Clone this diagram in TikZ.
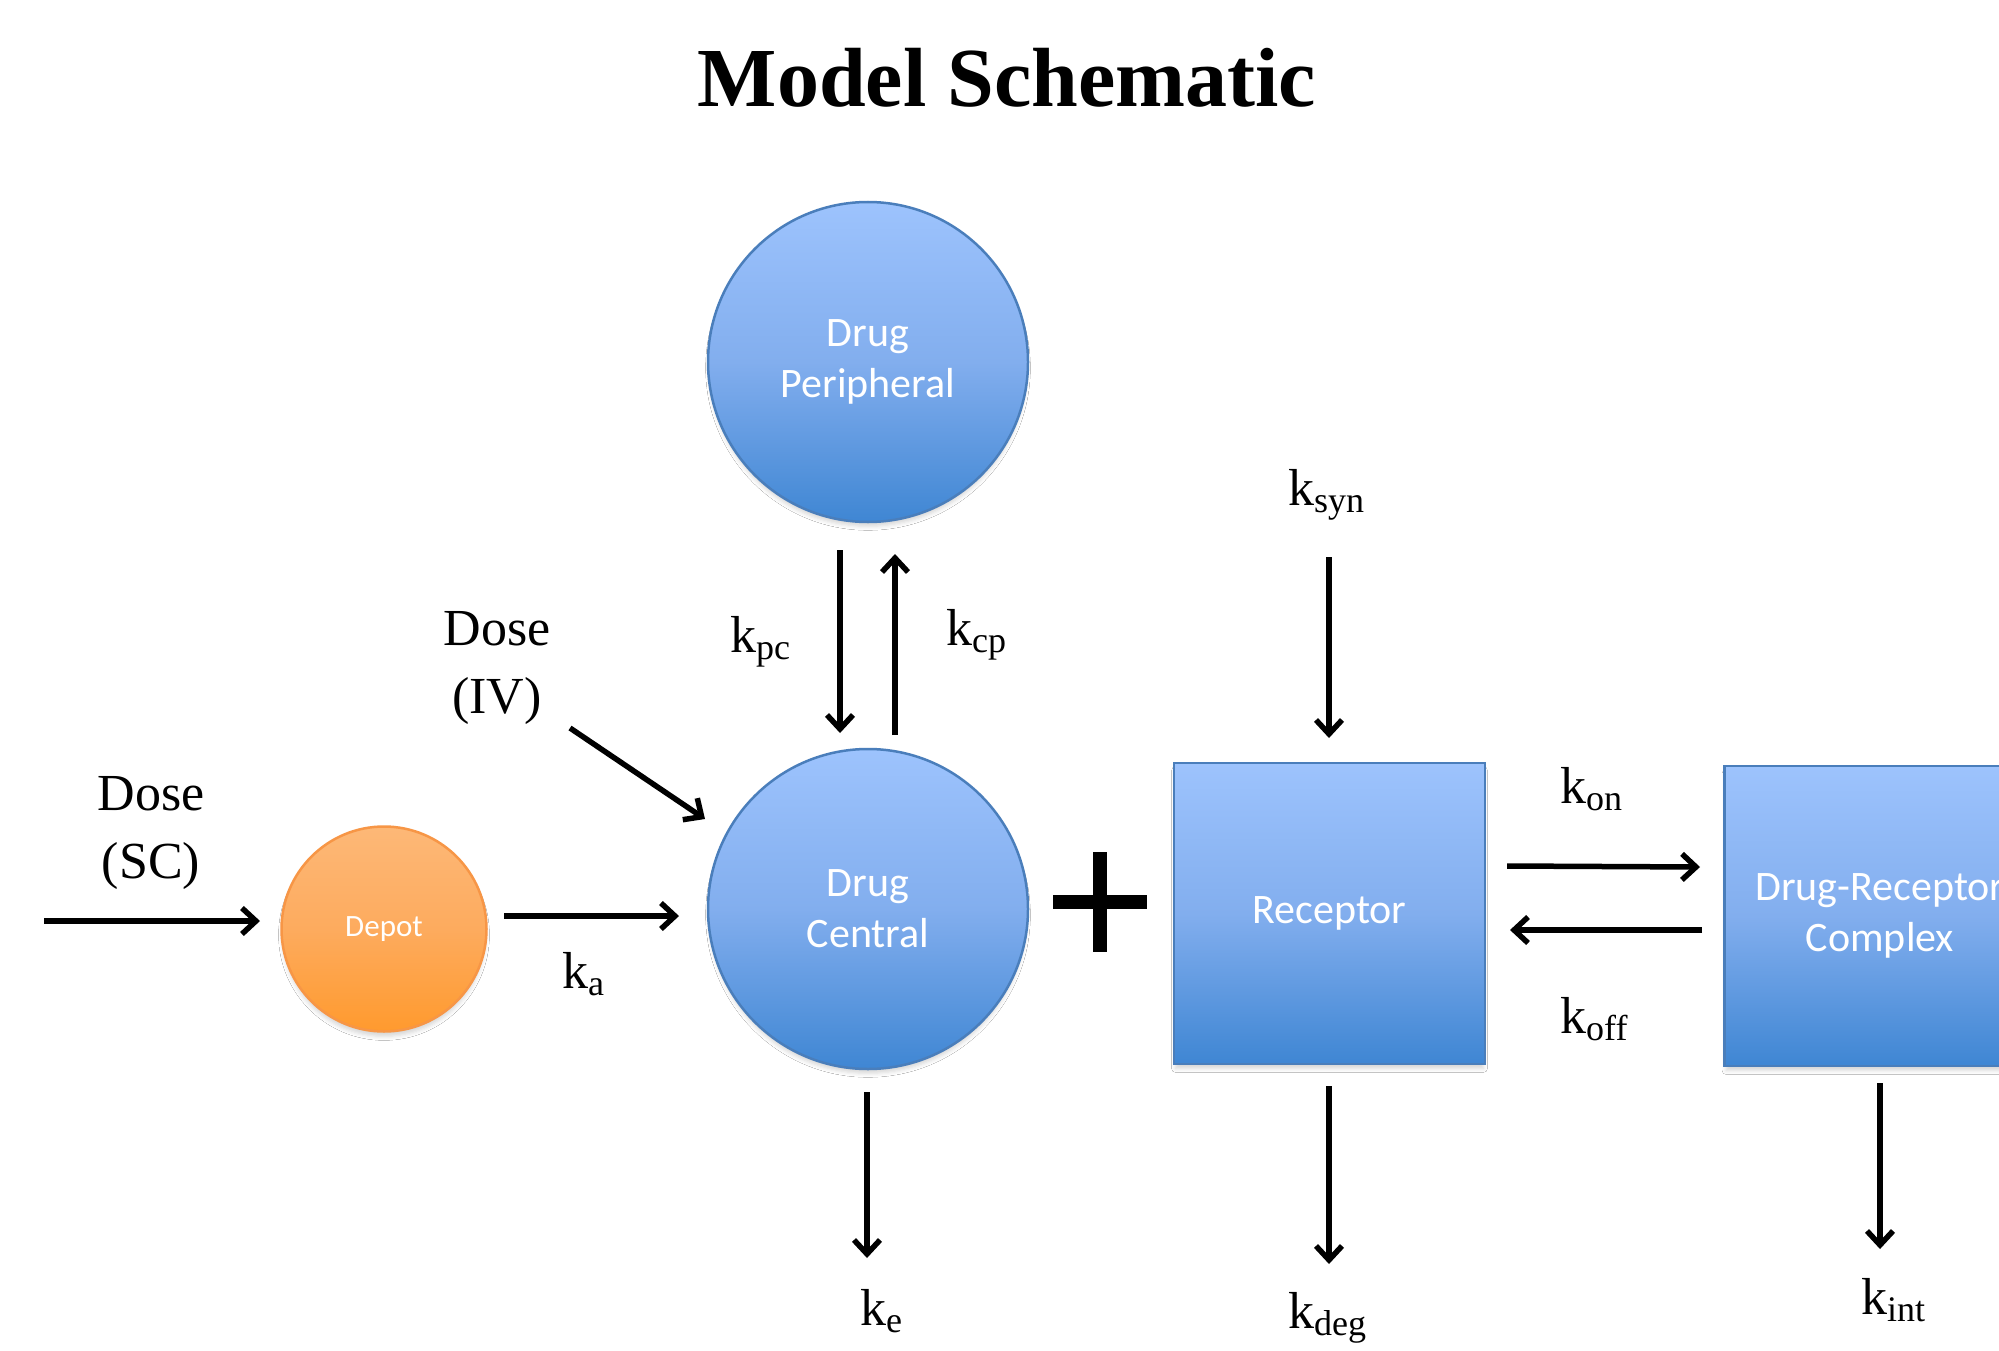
\documentclass[tikz,border=0pt]{standalone}
\usepackage{fontspec}
\setmainfont{Liberation Serif}
\newfontfamily\calibri{Carlito}
\usetikzlibrary{arrows.meta,shadows.blur}
\definecolor{bluetop}{HTML}{9DC3FD}
\definecolor{bluemid}{HTML}{82AEEE}
\definecolor{bluebot}{HTML}{3F86D3}
\definecolor{blueline}{HTML}{4A7EBB}
\definecolor{orangetop}{HTML}{FDB877}
\definecolor{orangemid}{HTML}{FDAB5E}
\definecolor{orangebot}{HTML}{FF9A2E}
\definecolor{orangeline}{HTML}{F79646}
\newcommand\rsub[1]{\raisebox{-7pt}{\fontsize{36}{40}\selectfont #1}}
\tikzset{
  compshadow/.style={blur shadow={shadow xshift=0pt, shadow yshift=-6pt, shadow blur radius=4pt, shadow opacity=16, shadow scale=0.99}},
  bluecirc/.style={circle, draw=blueline, line width=2.5pt, top color=bluetop, bottom color=bluebot, middle color=bluemid,
    minimum size=320pt, inner sep=0pt, text=white, font=\calibri\fontsize{42}{51}\selectfont, align=center, compshadow},
  bluebox/.style={rectangle, draw=blueline, line width=2.5pt, top color=bluetop, bottom color=bluebot, middle color=bluemid,
    minimum width=311pt, minimum height=301pt, inner sep=0pt, text=white, font=\calibri\fontsize{42}{51}\selectfont, align=center, compshadow},
  orangecirc/.style={circle, draw=orangeline, line width=2.5pt, top color=orangetop, bottom color=orangebot, middle color=orangemid,
    minimum size=205pt, inner sep=0pt, text=white, font=\calibri\fontsize{31}{36}\selectfont, compshadow},
  arr/.style={line width=5.5pt, -{Straight Barb[length=14pt,width=26pt]}},
  ratelab/.style={font=\fontsize{52}{60}\selectfont, anchor=base west, inner sep=0pt},
  doselab/.style={font=\fontsize{52}{68}\selectfont, align=center, anchor=base, inner sep=0pt},
}
\begin{document}
\begin{tikzpicture}[x=1pt,y=-1pt]
\clip (0,0) rectangle (1999,1351);
\fill[white] (0,0) rectangle (1999,1351);

\node[font=\bfseries\fontsize{84}{92}\selectfont, anchor=base] (title) at (1007,107) {Model Schematic};

\node[orangecirc] (depot) at (384,929) {Depot};
\node[bluecirc] (periph) at (868,362) {Drug\\Peripheral};
\node[bluecirc] (central) at (868,909) {Drug\\Central};
\node[bluebox] (rec) at (1329.5,913.5) {Receptor};
\node[bluebox, minimum height=300pt] (cplx) at (1880,916) {Drug-Receptor\\Complex};

% plus sign
\coordinate (plusc) at (1100,902);
\draw[line width=14pt] ([xshift=-47pt]plusc) -- ([xshift=47pt]plusc);
\draw[line width=14pt] ([yshift=50pt]plusc) -- ([yshift=-50pt]plusc);

% labels (anchor base = baseline of the last line)
\node[doselab] (dosesc) at (151,878) {Dose\\(SC)};
\node[doselab] (doseiv) at (497,713) {Dose\\(IV)};

\node[ratelab] (ka) at (562,988) {k\rsub{a}};
\node[ratelab] (kpc) at (730,652) {k\rsub{pc}};
\node[ratelab] (kcp) at (946,645) {k\rsub{cp}};
\node[ratelab] (ksyn) at (1288,505) {k\rsub{syn}};
\node[ratelab] (kon) at (1560,803) {k\rsub{on}};
\node[ratelab] (koff) at (1560,1033) {k\rsub{off}};
\node[ratelab] (ke) at (860,1325) {k\rsub{e}};
\node[ratelab] (kdeg) at (1288,1328) {k\rsub{deg}};
\node[ratelab] (kint) at (1861,1314) {k\rsub{int}};

% arrow end points
\coordinate (scS) at (44,921);   \coordinate (scE) at (260,921);
\coordinate (kaS) at (504,916);  \coordinate (kaE) at (679,916);
\coordinate (ivS) at (570,728);  \coordinate (ivE) at (705,819);
\coordinate (pcS) at (840,550);  \coordinate (pcE) at (840,733);
\coordinate (cpS) at (895,735);  \coordinate (cpE) at (895,554);
\coordinate (synS) at (1329,557); \coordinate (synE) at (1329,738);
\coordinate (onS) at (1507,866); \coordinate (onE) at (1700,867);
\coordinate (offS) at (1702,930); \coordinate (offE) at (1510,930);
\coordinate (keS) at (867,1092); \coordinate (keE) at (867,1258);
\coordinate (degS) at (1329,1086); \coordinate (degE) at (1329,1264);
\coordinate (intS) at (1880,1083); \coordinate (intE) at (1880,1249);

\draw[arr] (scS) -- (scE);
\draw[arr] (kaS) -- (kaE);
\draw[arr] (ivS) -- (ivE);
\draw[arr] (pcS) -- (pcE);
\draw[arr] (cpS) -- (cpE);
\draw[arr] (synS) -- (synE);
\draw[arr] (onS) -- (onE);
\draw[arr] (offS) -- (offE);
\draw[arr] (keS) -- (keE);
\draw[arr] (degS) -- (degE);
\draw[arr] (intS) -- (intE);
\end{tikzpicture}
\end{document}
